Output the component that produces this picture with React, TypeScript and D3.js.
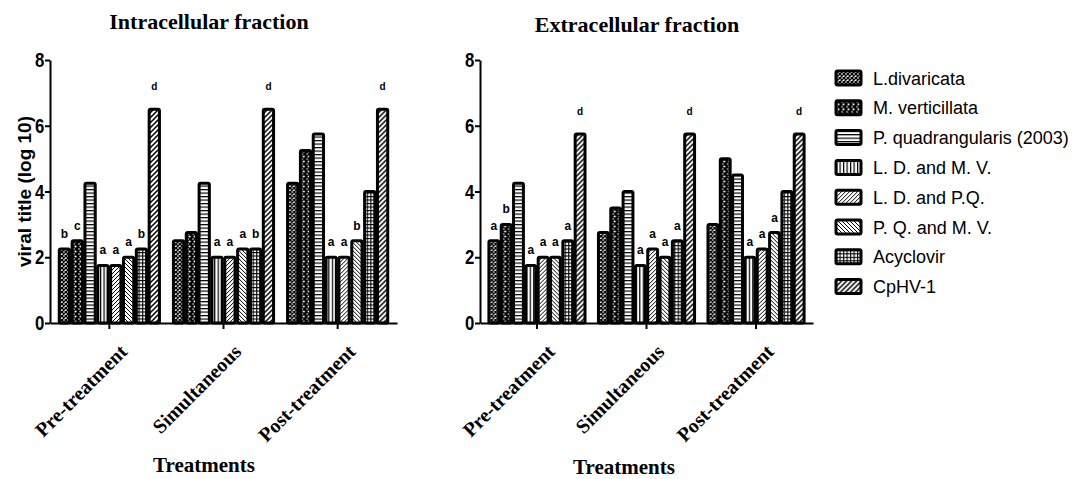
import { useEffect, useRef } from 'react'
import * as d3 from 'd3'

const treatments = ['Pre-treatment', 'Simultaneous', 'Post-treatment']
const extracts = [
  'L.divaricata',
  'M. verticillata',
  'P. quadrangularis (2003)',
  'L. D. and M. V.',
  'L. D. and P.Q.',
  'P. Q. and M. V.',
  'Acyclovir',
  'CpHV-1',
]

// viral titre (log 10), one row per treatment, one value per extract
const intraValues = [
  [2.25, 2.5, 4.25, 1.75, 1.75, 2.0, 2.25, 6.5],
  [2.5, 2.75, 4.25, 2.0, 2.0, 2.25, 2.25, 6.5],
  [4.25, 5.25, 5.75, 2.0, 2.0, 2.5, 4.0, 6.5],
]
const intraLetters = [
  ['b', 'c', '', 'a', 'a', 'a', 'b', 'd'],
  ['', '', '', 'a', 'a', 'a', 'b', 'd'],
  ['', '', '', 'a', 'a', 'b', '', 'd'],
]
const extraValues = [
  [2.5, 3.0, 4.25, 1.75, 2.0, 2.0, 2.5, 5.75],
  [2.75, 3.5, 4.0, 1.75, 2.25, 2.0, 2.5, 5.75],
  [3.0, 5.0, 4.5, 2.0, 2.25, 2.75, 4.0, 5.75],
]
const extraLetters = [
  ['a', 'b', '', 'a', 'a', 'a', 'a', 'd'],
  ['', '', '', 'a', 'a', 'a', 'a', 'd'],
  ['', '', '', 'a', 'a', 'a', '', 'd'],
]
const yTicks = [0, 2, 4, 6, 8]

const W = 1076
const H = 479
const SANS = '"Liberation Sans", Arial, sans-serif'
const SERIF = '"Liberation Serif", "Times New Roman", serif'

// fill patterns, one per extract
function addPatterns(defs) {
  const mk = (id, w, h, bg) => {
    const p = defs.append('pattern')
      .attr('id', id)
      .attr('patternUnits', 'userSpaceOnUse')
      .attr('width', w)
      .attr('height', h)
    p.append('rect').attr('width', w).attr('height', h).attr('fill', bg)
    return p
  }
  // L.divaricata - fine cross hatch
  mk('pat0', 4, 4, '#fff').append('path')
    .attr('d', 'M0,0 L4,4 M4,0 L0,4')
    .attr('stroke', '#000').attr('stroke-width', 1.4)
  // M. verticillata - white dots on black
  const p1 = mk('pat1', 5, 5, '#000')
  p1.append('circle').attr('cx', 2.5).attr('cy', 1.5).attr('r', 1.1).attr('fill', '#fff')
  p1.append('circle').attr('cx', 1).attr('cy', 4).attr('r', 0.8).attr('fill', '#fff')
  // P. quadrangularis - horizontal lines
  mk('pat2', 4, 3.5, '#fff').append('path')
    .attr('d', 'M0,0.6 H4')
    .attr('stroke', '#000').attr('stroke-width', 1.2)
  // L.D. and M.V. - vertical lines
  mk('pat3', 3.5, 4, '#fff').append('path')
    .attr('d', 'M0.6,0 V4')
    .attr('stroke', '#000').attr('stroke-width', 1.2)
  // L.D. and P.Q. - forward diagonal
  mk('pat4', 4, 4, '#fff').append('path')
    .attr('d', 'M0,4 L4,0 M-1,1 L1,-1 M3,5 L5,3')
    .attr('stroke', '#000').attr('stroke-width', 1)
  // P.Q. and M.V. - back diagonal
  mk('pat5', 4, 4, '#fff').append('path')
    .attr('d', 'M0,0 L4,4 M-1,3 L1,5 M3,-1 L5,1')
    .attr('stroke', '#000').attr('stroke-width', 1)
  // Acyclovir - grid
  mk('pat6', 3.5, 3.5, '#fff').append('path')
    .attr('d', 'M0,0.6 H3.5 M0.6,0 V3.5')
    .attr('stroke', '#000').attr('stroke-width', 1.1)
  // CpHV-1 - heavier forward diagonal
  mk('pat7', 5, 5, '#fff').append('path')
    .attr('d', 'M0,5 L5,0 M-1,1 L1,-1 M4,6 L6,4')
    .attr('stroke', '#000').attr('stroke-width', 1.5)
}

function drawPanel(svg, cfg) {
  const { left, right, values, letters, title, titleX, titleY, xTitleX, xTitleY, yLabel } = cfg
  const top = 60
  const bottom = 323

  const y = d3.scaleLinear().domain([0, 8]).range([bottom, top])
  const x0 = d3.scaleBand().domain(treatments).range([left, right])
    .paddingInner(0.1).paddingOuter(0.07)
  const x1 = d3.scaleBand().domain(extracts).range([0, x0.bandwidth()])
  const barW = x1.bandwidth() * 0.8

  const g = svg.append('g')

  // bars
  treatments.forEach((t, ti) => {
    const grp = g.append('g').attr('transform', `translate(${x0(t)},0)`)
    extracts.forEach((e, ei) => {
      const v = values[ti][ei]
      const cx = x1(e) + x1.bandwidth() / 2
      grp.append('rect')
        .attr('x', cx - barW / 2)
        .attr('y', y(v))
        .attr('width', barW)
        .attr('height', y(0) - y(v))
        .attr('rx', 1.5)
        .attr('fill', `url(#pat${ei})`)
        .attr('stroke', '#000')
        .attr('stroke-width', 3)
        .attr('stroke-linejoin', 'round')
      const l = letters[ti][ei]
      if (l) {
        grp.append('text')
          .attr('x', cx)
          .attr('y', y(v) - (l === 'd' ? 19 : 11))
          .attr('text-anchor', 'middle')
          .attr('font-family', SANS)
          .attr('font-weight', 'bold')
          .attr('font-size', l === 'd' ? 10 : 12)
          .text(l)
      }
    })
  })

  // y axis
  const ya = g.append('g')
    .attr('transform', `translate(${left},0)`)
    .call(d3.axisLeft(y).tickValues(yTicks).tickSize(5).tickSizeOuter(0).tickPadding(2))
  ya.select('.domain').attr('stroke-width', 2)
  ya.selectAll('.tick line').attr('stroke-width', 2)
  ya.selectAll('.tick text')
    .attr('font-family', SANS)
    .attr('font-weight', 'bold')
    .attr('font-size', 21)
    .attr('fill', '#000')
    .attr('transform', 'scale(0.8,1)')

  // x axis
  const xa = g.append('g')
    .attr('transform', `translate(0,${bottom})`)
    .call(d3.axisBottom(x0).tickSize(6).tickSizeOuter(0).tickFormat(() => ''))
  xa.select('.domain').attr('stroke-width', 2)
  xa.selectAll('.tick line').attr('stroke-width', 2)

  treatments.forEach(t => {
    const cx = x0(t) + x0.bandwidth() / 2
    g.append('text')
      .attr('transform', `translate(${cx + 19},${bottom + 30}) rotate(-45)`)
      .attr('text-anchor', 'end')
      .attr('font-family', SERIF)
      .attr('font-weight', 'bold')
      .attr('font-size', 20)
      .text(t)
  })

  g.append('text')
    .attr('x', xTitleX)
    .attr('y', xTitleY)
    .attr('text-anchor', 'middle')
    .attr('font-family', SERIF)
    .attr('font-weight', 'bold')
    .attr('font-size', 21)
    .text('Treatments')

  g.append('text')
    .attr('x', titleX)
    .attr('y', titleY)
    .attr('text-anchor', 'middle')
    .attr('font-family', SERIF)
    .attr('font-weight', 'bold')
    .attr('font-size', 22)
    .text(title)

  if (yLabel) {
    g.append('text')
      .attr('transform', `translate(31,${(top + bottom) / 2}) rotate(-90)`)
      .attr('text-anchor', 'middle')
      .attr('font-family', SANS)
      .attr('font-weight', 'bold')
      .attr('font-size', 19)
      .text(yLabel)
  }
}

export default function App() {
  const svgRef = useRef(null)

  useEffect(() => {
    if (!svgRef.current) return
    const svg = d3.select(svgRef.current)
    svg.selectAll('*').remove()

    addPatterns(svg.append('defs'))

    drawPanel(svg, {
      left: 50, right: 397,
      values: intraValues, letters: intraLetters,
      title: 'Intracellular fraction', titleX: 209, titleY: 29,
      xTitleX: 204, xTitleY: 472,
      yLabel: 'viral title (log 10)',
    })
    drawPanel(svg, {
      left: 480, right: 813,
      values: extraValues, letters: extraLetters,
      title: 'Extracellular fraction', titleX: 637, titleY: 32,
      xTitleX: 624, xTitleY: 474,
      yLabel: null,
    })

    // legend
    const lg = svg.append('g').attr('transform', 'translate(836,78)')
    extracts.forEach((e, i) => {
      const row = lg.append('g').attr('transform', `translate(0,${i * 29.8})`)
      row.append('rect')
        .attr('x', 0).attr('y', -7)
        .attr('width', 25).attr('height', 14)
        .attr('rx', 1.5)
        .attr('fill', `url(#pat${i})`)
        .attr('stroke', '#000')
        .attr('stroke-width', 3)
      row.append('text')
        .attr('x', 37).attr('y', 6.5)
        .attr('font-family', SANS)
        .attr('font-size', 18)
        .text(e)
    })
  }, [])

  return (
    <svg
      ref={svgRef}
      width={W}
      height={H}
      viewBox={`0 0 ${W} ${H}`}
      style={{ position: 'absolute', left: 0, top: 0, background: '#fff' }}
    />
  )
}
